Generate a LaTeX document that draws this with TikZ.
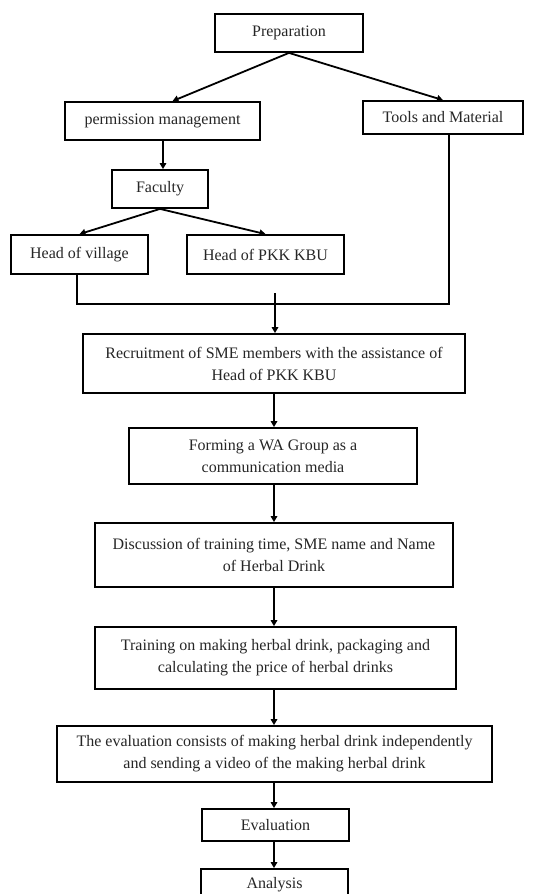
\documentclass[tikz,border=0pt]{standalone}
\usepackage{fontspec}
\setmainfont{Liberation Serif}
\usetikzlibrary{arrows.meta,calc}
\begin{document}
\begin{tikzpicture}[x=1pt,y=-1pt,
  box/.style={draw=black,line width=1.8pt,inner sep=0pt,align=center,text=black!85,
    font=\fontsize{16}{22}\selectfont},
  arr/.style={line width=1.8pt,-{Triangle[width=6.5pt,length=6pt]}},
  ln/.style={line width=1.8pt}]
\useasboundingbox (0,0) rectangle (537,894);
\clip (0,0) rectangle (537,894);
\fill[white] (0,0) rectangle (537,894);
\node[box,minimum width=148pt,minimum height=38pt] (prep) at (289,33) {Preparation};
\node[box,minimum width=195pt,minimum height=38pt] (perm) at (162.5,121) {permission management};
\node[box,minimum width=160pt,minimum height=33pt] (tools) at (443,117.5) {Tools and Material};
\node[box,minimum width=96pt,minimum height=38pt] (fac) at (160,189) {Faculty};
\node[box,minimum width=137pt,minimum height=39pt] (vil) at (79.5,254.5) {Head of village};
\node[box,minimum width=157pt,minimum height=39pt] (pkk) at (265.5,254.5) {Head of PKK KBU};
\node[box,minimum width=382pt,minimum height=59pt] (recr) at (274,363.5) {Recruitment of SME members with the assistance of\\Head of PKK KBU};
\node[box,minimum width=288pt,minimum height=56pt] (form) at (273,456) {Forming a WA Group as a\\communication media};
\node[box,minimum width=358pt,minimum height=64pt] (disc) at (274,555) {Discussion of training time, SME name and Name\\of Herbal Drink};
\node[box,minimum width=361pt,minimum height=62pt] (train) at (275.5,658) {Training on making herbal drink, packaging and\\calculating the price of herbal drinks};
\node[box,minimum width=435pt,minimum height=56pt] (evc) at (274.5,754) {The evaluation consists of making herbal drink independently\\and sending a video of the making herbal drink};
\node[box,minimum width=147pt,minimum height=32pt] (evn) at (275.5,825) {Evaluation};
\node[box,minimum width=147pt,minimum height=32pt] (anal) at (274.5,885) {Analysis};
\coordinate (j1) at (77,304);
\coordinate (j2) at (449,304);
\coordinate (m) at (275,293);
\coordinate (c) at (274,0);
\draw[arr] (prep.south) -- ($(perm.north)+(10,0)$);
\draw[arr] (prep.south) -- (tools.north);
\draw[arr] (perm.south -| 163,0) -- (fac.north -| 163,0);
\draw[arr] (fac.south) -- (vil.north);
\draw[arr] (fac.south) -- (pkk.north);
\draw[ln] (vil.south -| j1) -- (j1) -- (j2) -- (tools.south -| j2);
\draw[arr] (m) -- (recr.north -| m);
\draw[arr] (recr.south -| c) -- (form.north -| c);
\draw[arr] (form.south -| c) -- (disc.north -| c);
\draw[arr] (disc.south -| c) -- (train.north -| c);
\draw[arr] (train.south -| c) -- (evc.north -| c);
\draw[arr] (evc.south -| c) -- (evn.north -| c);
\draw[arr] (evn.south -| c) -- (anal.north -| c);
\end{tikzpicture}
\end{document}
